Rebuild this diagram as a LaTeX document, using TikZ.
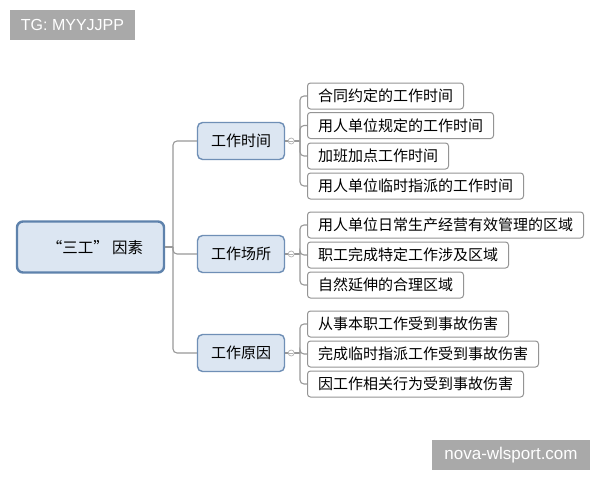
\documentclass[tikz,border=0pt]{standalone}
\usepackage{fontspec}
\setmainfont{Noto Sans CJK SC}
\newfontfamily\wmfont{Liberation Sans}
\begin{document}
\begin{tikzpicture}[x=1pt,y=-1pt,
  line/.style={draw=black!40,line width=1.1pt,rounded corners=4pt},
  rootbox/.style={draw=rootborder,fill=boxfill,line width=2.4pt,rounded corners=6pt,minimum width=147pt,minimum height=51pt,inner sep=0pt},
  midbox/.style={draw=midborder,fill=boxfill,line width=1.4pt,rounded corners=5pt,minimum width=87pt,minimum height=37pt,inner sep=0pt,font=\fontsize{15}{17}\selectfont},
  leaf/.style={draw=black!42,fill=white,line width=1pt,rounded corners=3pt,minimum height=26pt,inner xsep=10.5pt,inner ysep=0pt,anchor=west,font=\fontsize{15}{17}\selectfont},
  wm/.style={fill=wmgray,text=white,inner sep=0pt,font=\wmfont\fontsize{16}{18}\selectfont},
  knob/.style={circle,draw=black!30,fill=white,line width=0.7pt,minimum size=6pt,inner sep=0pt}
]
\definecolor{boxfill}{HTML}{DCE6F2}
\definecolor{rootborder}{HTML}{5E82AC}
\definecolor{midborder}{HTML}{6F8FB6}
\definecolor{wmgray}{HTML}{A9A9A9}
\useasboundingbox (0,0) rectangle (600,480);
\fill[white] (0,0) rectangle (600,480);

% watermarks
\node[wm,minimum width=125pt,minimum height=30pt] (tg) at (72.5,25) {TG: MYYJJPP};
\node[wm,minimum width=158pt,minimum height=30pt,font=\wmfont\fontsize{17}{19}\selectfont] (nova) at (511,455) {nova-wlsport.com};

% root and middle nodes
\node[rootbox] (root) at (90.5,247) {};
\node[font=\fontsize{15.5}{18}\selectfont,inner sep=0pt] (roottxt) at (95,248) {“三工” 因素};
\node[midbox] (m1) at (241,141) {工作时间};
\node[midbox] (m2) at (241,254) {工作场所};
\node[midbox] (m3) at (241,353) {工作原因};

% trunk
\coordinate (tj) at (173,247);
\draw[line] (root.east) -- (tj);
\draw[line] (tj) |- (m1.west);
\draw[line] (tj) |- (m3.west);
\draw[line] (tj) |- (m2.west);

% leaves group 1
\node[leaf] (a1) at (307,96) {合同约定的工作时间};
\node[leaf] (a2) at (307,125.5) {用人单位规定的工作时间};
\node[leaf] (a3) at (307,156) {加班加点工作时间};
\node[leaf] (a4) at (307,186) {用人单位临时指派的工作时间};
% leaves group 2
\node[leaf] (b1) at (307,225) {用人单位日常生产经营有效管理的区域};
\node[leaf] (b2) at (307,255) {职工完成特定工作涉及区域};
\node[leaf] (b3) at (307,285) {自然延伸的合理区域};
% leaves group 3
\node[leaf] (c1) at (307,324) {从事本职工作受到事故伤害};
\node[leaf] (c2) at (307,354) {完成临时指派工作受到事故伤害};
\node[leaf] (c3) at (307,384) {因工作相关行为受到事故伤害};

% branch connectors
\coordinate (j1) at (300,141);
\coordinate (j2) at (300,254);
\coordinate (j3) at (300,353);
\draw[line] (m1.east) -- (j1);
\draw[line] (j1) |- (a1.west);
\draw[line] (j1) |- (a4.west);
\draw[line] (j1) |- (a2.west);
\draw[line] (j1) |- (a3.west);
\draw[line] (m2.east) -- (j2);
\draw[line] (j2) |- (b1.west);
\draw[line] (j2) |- (b3.west);
\draw[line] (j2) |- (b2.west);
\draw[line] (m3.east) -- (j3);
\draw[line] (j3) |- (c1.west);
\draw[line] (j3) |- (c3.west);
\draw[line] (j3) |- (c2.west);

% collapse knobs
\foreach \m/\k in {m1/k1,m2/k2,m3/k3}{
  \node[knob] (\k) at ([xshift=6pt]\m.east) {};
  \draw[black!30,line width=0.6pt] ([xshift=-1.8pt]\k.center) -- ([xshift=1.8pt]\k.center);
}
\end{tikzpicture}
\end{document}
